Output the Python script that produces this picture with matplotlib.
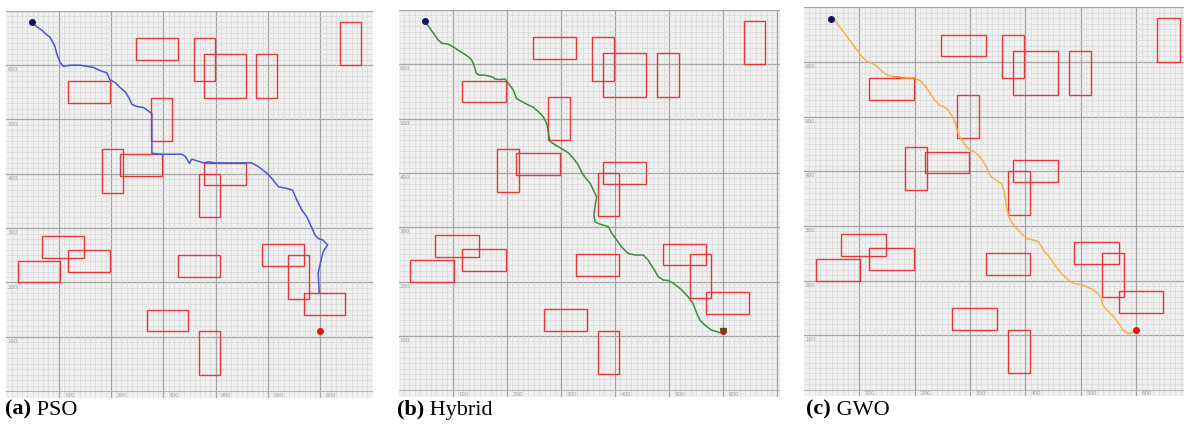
import matplotlib.pyplot as plt
from matplotlib.patches import Rectangle

W, H = 1184, 425

# obstacles (lower-left corner, width, height)
obs_x = [248, 358, 378, 478, 638, 118, 277, 182, 218, 378, 368, 68, 118, 22, 328, 488, 538, 568, 268, 368]
obs_y = [610, 570, 540, 540, 600, 530, 460, 365, 396, 380, 320, 245, 220, 200, 210, 230, 170, 140, 110, 30]
obs_w = [80, 40, 80, 40, 40, 80, 40, 40, 80, 80, 40, 80, 80, 80, 80, 80, 40, 80, 80, 40]
obs_h = [40, 80, 80, 80, 80, 40, 80, 80, 40, 40, 80, 40, 40, 40, 40, 40, 80, 40, 40, 80]

start = (49, 679)
goal = (600, 110)

pso_x = [48, 58, 67, 77, 83, 90, 93, 96, 102, 109, 122, 141, 153, 166, 179, 192, 198, 208, 217, 227,
         233, 240, 249, 262, 271, 278, 278, 294, 319, 335, 342, 350, 354, 364, 377, 386, 399, 434, 469,
         482, 498, 507, 520, 536, 547, 555, 565, 574, 584, 590, 596, 605, 614, 606, 603, 600, 596, 597, 598]
pso_y = [679, 671, 665, 656, 652, 640, 634, 622, 606, 598, 600, 600, 598, 596, 590, 586, 573, 568, 559, 551,
         542, 528, 524, 522, 516, 511, 438, 436, 436, 436, 432, 419, 427, 424, 420, 422, 420, 420, 420,
         413, 401, 392, 376, 373, 370, 352, 333, 321, 300, 287, 281, 278, 269, 257, 247, 235, 217, 198, 181]

hyb_x = [49, 58, 67, 73, 80, 92, 101, 110, 120, 129, 135, 138, 141, 144, 150, 160, 169, 175, 178, 187,
         197, 203, 212, 218, 227, 240, 249, 258, 267, 274, 277, 280, 289, 301, 314, 323, 332, 338, 344,
         354, 360, 366, 363, 361, 363, 372, 388, 394, 403, 412, 424, 437, 452, 461, 471, 480, 489, 498,
         508, 523, 535, 544, 551, 557, 566, 578, 594, 601]
hyb_y = [679, 666, 654, 645, 639, 637, 632, 626, 620, 614, 608, 602, 593, 583, 580, 580, 578, 576, 573, 572,
         573, 565, 553, 537, 532, 525, 521, 513, 504, 491, 473, 458, 452, 445, 437, 427, 415, 402, 393,
         381, 369, 356, 338, 323, 310, 306, 301, 289, 277, 264, 252, 249, 249, 240, 224, 209, 203, 202,
         197, 185, 172, 160, 142, 129, 120, 111, 106, 109]

gwo_x = [51, 59, 68, 77, 86, 95, 104, 113, 122, 131, 140, 150, 162, 174, 186, 201, 210, 219, 225, 231,
         237, 246, 255, 261, 267, 273, 276, 282, 288, 294, 300, 309, 318, 324, 330, 333, 339, 348, 357,
         361, 363, 366, 369, 375, 384, 393, 402, 414, 423, 429, 435, 441, 447, 453, 459, 465, 474, 486,
         498, 510, 522, 531, 537, 539, 547, 559, 568, 577, 586, 595]
gwo_y = [680, 672, 660, 648, 635, 623, 611, 602, 598, 593, 584, 576, 573, 572, 570, 570, 566, 556, 547, 538,
         529, 520, 517, 511, 502, 490, 477, 462, 453, 444, 439, 435, 426, 417, 407, 398, 389, 383, 377,
         365, 353, 334, 319, 307, 295, 286, 277, 274, 271, 262, 252, 246, 237, 228, 220, 213, 204, 195,
         193, 189, 183, 176, 167, 155, 146, 134, 122, 108, 103, 106]

tick_vals = [100, 200, 300, 400, 500, 600]

# pixel boxes of the three panels: left, top, right, bottom, and x-limit
panels = [
    dict(box=(6.4, 10.9, 372.6, 397.5), xmax=700, path=(pso_x, pso_y), color='#4a55d8', cap='(a)', name=' PSO', cx=5),
    dict(box=(398.5, 10.0, 780.1, 396.8), xmax=705, path=(hyb_x, hyb_y), color='#3d8b3d', cap='(b)', name=' Hybrid', cx=397),
    dict(box=(803.8, 7.3, 1184.0, 396.4), xmax=686, path=(gwo_x, gwo_y), color='#f2b445', cap='(c)', name=' GWO', cx=806),
]

fig = plt.figure(figsize=(W / 100, H / 100), dpi=100)

for p in panels:
    l, t, r, b = p['box']
    ax = fig.add_axes([l / W, 1 - b / H, (r - l) / W, (b - t) / H])
    ax.set_xlim(0, p['xmax'])
    ax.set_ylim(-12, 700)
    ax.set_facecolor('#f0f0f0')

    # grid: fine lines every 10, heavier every 100
    for v in range(10, 710, 10):
        major = v % 100 == 0
        c = '#a4a4a4' if major else '#dadada'
        lw = 0.9 if major else 0.5
        if v < p['xmax']:
            ax.axvline(v, color=c, lw=lw, zorder=0)
        ax.axhline(v, color=c, lw=lw, zorder=0)
    ax.axhline(0, color='#b8b8b8', lw=0.8, zorder=0)

    for v in tick_vals:
        ax.text(2, v - 4, str(v), fontsize=4, color='#a0a0a0', va='top', ha='left')
        ax.text(v + 10, -3, str(v), fontsize=4, color='#a0a0a0', va='top', ha='left')

    for x, y, w, h in zip(obs_x, obs_y, obs_w, obs_h):
        ax.add_patch(Rectangle((x, y), w, h, fill=False, ec='#e6383c', lw=1.0, zorder=2))

    px, py = p['path']
    ax.plot(px, py, color=p['color'], lw=1.1, zorder=3)
    if p['cap'] == '(c)':
        ax.plot(px[12:16], py[12:16], color='#f08a1c', lw=1.1, zorder=3)

    ax.plot(*start, 'o', color='#14145a', ms=4, zorder=4)
    ax.plot(*goal, 'o', color='#e81414', ms=4, zorder=4)
    if p['cap'] == '(b)':
        ax.plot(*goal, 'v', color='#5c4a12', ms=4.5, zorder=5)

    ax.set_xticks([])
    ax.set_yticks([])
    for s in ax.spines.values():
        s.set_visible(False)

    # caption: bold letter followed by the method name
    t1 = fig.text(p['cx'] / W, 0.012, p['cap'], fontsize=16, fontweight='bold',
                  family='Liberation Serif', va='bottom', ha='left')
    ax.annotate(p['name'], xy=(1, 0), xycoords=t1, fontsize=16, family='Liberation Serif',
                va='bottom', ha='left', annotation_clip=False)

plt.savefig('out.png', dpi=100)
